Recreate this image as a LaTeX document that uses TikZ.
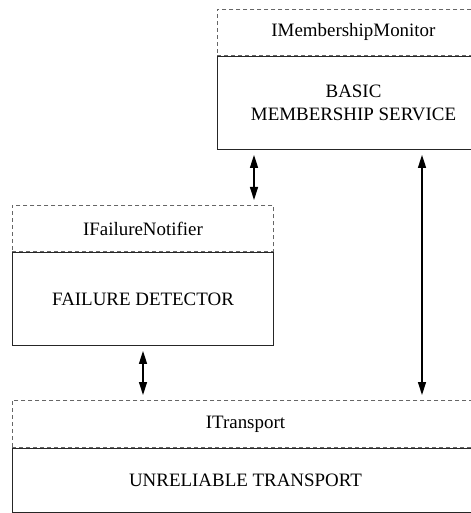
\documentclass[tikz,border=0pt]{standalone}
\usepackage{fontspec}
\setmainfont{Liberation Serif}
\usetikzlibrary{arrows.meta,calc}

\tikzset{
  every node/.style={font=\fontsize{19}{23}\selectfont, inner sep=0pt, anchor=north west, align=center},
  ifacebox/.style={draw=black!60, line width=0.9bp, dash pattern=on 4bp off 3bp},
  layerbox/.style={draw=black!85, line width=1bp},
  link/.style={line width=1.3bp, {Triangle[length=13bp,width=8bp]}-{Triangle[length=13bp,width=8bp]},
               shorten <=5bp, shorten >=5bp}
}

\begin{document}
\begin{tikzpicture}[x=1bp, y=-1bp]
  \clip (0,0) rectangle (471,513);

  % basic membership service (top right)
  \node[ifacebox, minimum width=272bp, minimum height=46bp] (h1) at (217,9) {IMembershipMonitor};
  \node[layerbox, minimum width=272bp, minimum height=93bp] (b1) at (h1.south west) {BASIC\\MEMBERSHIP SERVICE};

  % failure detector (middle left)
  \node[ifacebox, minimum width=261bp, minimum height=46bp] (h2) at (12,205) {IFailureNotifier};
  \node[layerbox, minimum width=261bp, minimum height=93bp] (b2) at (h2.south west) {FAILURE DETECTOR};

  % unreliable transport (bottom)
  \node[ifacebox, minimum width=466bp, minimum height=47bp] (h3) at (12,400) {ITransport};
  \node[layerbox, minimum width=466bp, minimum height=64bp] (b3) at (h3.south west) {UNRELIABLE TRANSPORT};

  % connectors between layers
  \coordinate (p1) at ($(b1.south west)+(37,0)$);
  \coordinate (p2) at ($(b1.south west)+(205,0)$);
  \draw[link] (p1) -- (p1 |- h2.north);
  \draw[link] (p2) -- (p2 |- h3.north);
  \draw[link] (b2.south) -- (b2.south |- h3.north);
\end{tikzpicture}
\end{document}
